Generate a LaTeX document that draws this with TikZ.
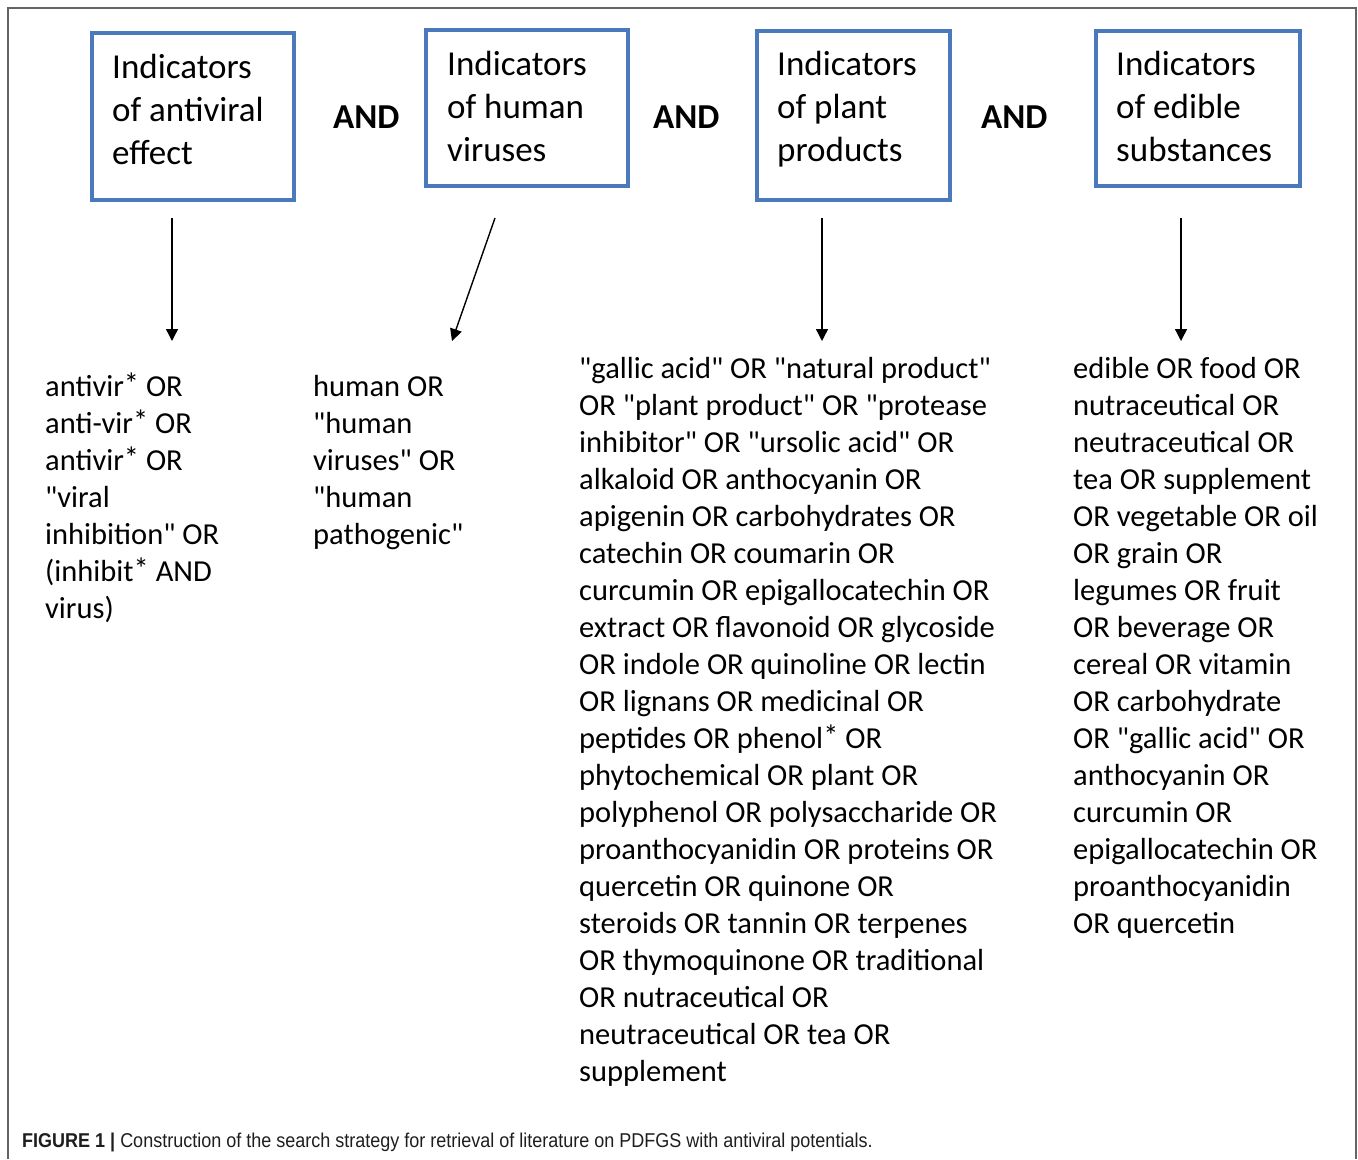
\documentclass[tikz,border=0pt]{standalone}
\usepackage{fontspec}
\setmainfont{Carlito}[Ligatures=TeXOff]
\newfontfamily\capfont[FakeStretch=0.9]{Liberation Sans}
\usetikzlibrary{arrows.meta}
\definecolor{boxblue}{RGB}{74,122,188}
\definecolor{framegray}{RGB}{100,100,100}
\definecolor{captext}{RGB}{30,30,30}

% lines stacked with a fixed baseline distance; the box's baseline is the first line's
\newcommand\linestack[2]{\vtop{\baselineskip=#1\relax\lineskiplimit=-100bp\halign{##\hfil\cr#2\crcr}}}
% wildcard asterisk, set a little high as in the search syntax
\newcommand\wild{\raisebox{0.06em}{*}}

\begin{document}
\begin{tikzpicture}[x=1bp,y=-1bp,
  catbox/.style={draw=boxblue, line width=3.5bp, inner sep=0pt},
  boxtext/.style={anchor=base west, inner sep=0pt, font=\fontsize{35bp}{43bp}\selectfont},
  andword/.style={anchor=base west, inner sep=0pt, font=\fontsize{35bp}{43bp}\selectfont\bfseries},
  termlist/.style={anchor=base west, inner sep=0pt, font=\fontsize{30.5bp}{37bp}\selectfont},
  link/.style={line width=1.4bp, -{Triangle[length=12bp,width=12bp]}}]

\useasboundingbox (0,0) rectangle (1358,1159);

% outer frame, open at the bottom
\draw[framegray, line width=1.6bp] (8,1159) -- (8,8) -- (1356,8) -- (1356,1159);

% category boxes
\node[catbox, minimum width=202bp, minimum height=167bp] (b1) at (193,116.5) {};
\node[catbox, minimum width=202bp, minimum height=156bp] (b2) at (527,108) {};
\node[catbox, minimum width=193bp, minimum height=169bp] (b3) at (853.5,115.5) {};
\node[catbox, minimum width=204bp, minimum height=155bp] (b4) at (1198,108.5) {};

\node[boxtext] (t1) at (112,78) {\linestack{43bp}{Indicators\cr of antiviral\cr effect}};
\node[boxtext] (t2) at (447,75) {\linestack{43bp}{Indicators\cr of human\cr viruses}};
\node[boxtext] (t3) at (777,75) {\linestack{43bp}{Indicators\cr of plant\cr products}};
\node[boxtext] (t4) at (1116,75) {\linestack{43bp}{Indicators\cr of edible\cr substances}};

% AND operators between the boxes
\node[andword] (and1) at (333,128) {AND};
\node[andword] (and2) at (653,128) {AND};
\node[andword] (and3) at (981,128) {AND};

% search terms
\node[termlist] (l1) at (45,396) {\linestack{37bp}{%
antivir\wild{} OR\cr
anti-vir\wild{} OR\cr
antivir\wild{} OR\cr
"viral\cr
inhibition" OR\cr
(inhibit\wild{} AND\cr
virus)}};

\node[termlist] (l2) at (313,396) {\linestack{37bp}{%
human OR\cr
"human\cr
viruses" OR\cr
"human\cr
pathogenic"}};

\node[termlist] (l3) at (579,378) {\linestack{37bp}{%
"gallic acid" OR "natural product"\cr
OR "plant product" OR "protease\cr
inhibitor" OR "ursolic acid" OR\cr
alkaloid OR anthocyanin OR\cr
apigenin OR carbohydrates OR\cr
catechin OR coumarin OR\cr
curcumin OR epigallocatechin OR\cr
extract OR flavonoid OR glycoside\cr
OR indole OR quinoline OR lectin\cr
OR lignans OR medicinal OR\cr
peptides OR phenol\wild{} OR\cr
phytochemical OR plant OR\cr
polyphenol OR polysaccharide OR\cr
proanthocyanidin OR proteins OR\cr
quercetin OR quinone OR\cr
steroids OR tannin OR terpenes\cr
OR thymoquinone OR traditional\cr
OR nutraceutical OR\cr
neutraceutical OR tea OR\cr
supplement}};

\node[termlist] (l4) at (1073,378) {\linestack{37bp}{%
edible OR food OR\cr
nutraceutical OR\cr
neutraceutical OR\cr
tea OR supplement\cr
OR vegetable OR oil\cr
OR grain OR\cr
legumes OR fruit\cr
OR beverage OR\cr
cereal OR vitamin\cr
OR carbohydrate\cr
OR "gallic acid" OR\cr
anthocyanin OR\cr
curcumin OR\cr
epigallocatechin OR\cr
proanthocyanidin\cr
OR quercetin}};

% arrows from each category to its terms
\coordinate (a1s) at (172,218); \coordinate (a1e) at (172,341);
\coordinate (a2s) at (495,218); \coordinate (a2e) at (452,341);
\coordinate (a3s) at (822,218); \coordinate (a3e) at (822,341);
\coordinate (a4s) at (1181,218); \coordinate (a4e) at (1181,341);
\draw[link] (a1s) -- (a1e);
\draw[link] (a2s) -- (a2e);
\draw[link] (a3s) -- (a3e);
\draw[link] (a4s) -- (a4e);

% caption
\node[anchor=base west, inner sep=0pt, text=captext, font=\capfont\fontsize{20bp}{24bp}\selectfont] (cap) at (22,1147)
  {\textbf{FIGURE 1 |} Construction of the search strategy for retrieval of literature on PDFGS with antiviral potentials.};
\end{tikzpicture}
\end{document}
